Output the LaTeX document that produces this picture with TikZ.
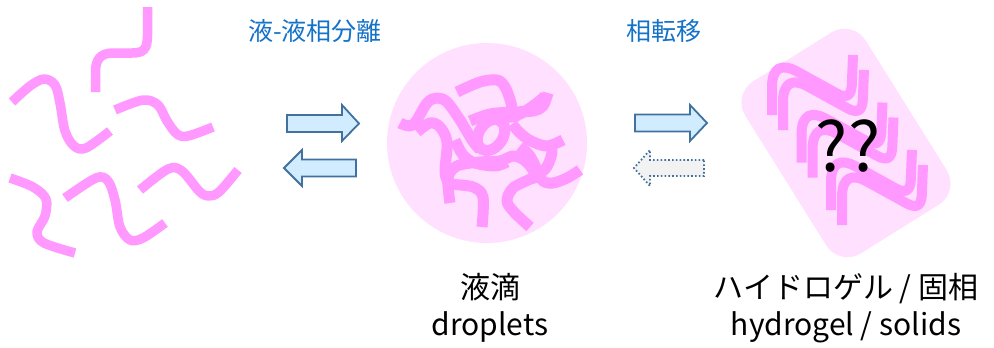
\documentclass[tikz,border=0pt]{standalone}
\usepackage{fontspec}
\setmainfont{Noto Sans CJK JP}
\definecolor{strandpink}{RGB}{255,153,255}
\definecolor{blobpink}{RGB}{255,224,255}
\definecolor{arrowfill}{RGB}{209,236,255}
\definecolor{arrowline}{RGB}{65,113,156}
\definecolor{ghostfill}{RGB}{242,242,242}
\definecolor{labelblue}{RGB}{20,115,200}
\begin{document}
\begin{tikzpicture}[x=1pt,y=-1pt,
  strand/.style={draw=strandpink, line width=9.5pt, line join=round},
  thickstrand/.style={strand, line width=11pt},
  blockarrow/.style={draw=arrowline, fill=arrowfill, line width=1.8pt, line join=miter},
  ghostarrow/.style={draw=arrowline, fill=ghostfill, line width=1.8pt, dash pattern=on 1.6pt off 2.2pt},
  steplabel/.style={text=labelblue, font=\fontsize{25}{30}\selectfont, inner sep=0pt},
  caption/.style={text=black, font=\fontsize{30}{37}\selectfont, align=center, inner sep=0pt},
  smoothpath/.style={smooth, tension=0.55}
]
\useasboundingbox (0,0) rectangle (994,348);

% free chains in solution
\draw[strand] (147.5,7) -- (147.5,35) .. controls (147.5,50) and (143,53) .. (132,53)
  -- (113,53) .. controls (100,53) and (95.5,60) .. (95.5,72) -- (95.5,92);
\draw[strand] plot[smoothpath] coordinates {(12,102) (30,86) (44,79) (55,85) (60,103) (65,131) (74,146) (86,148) (110,131)};
\draw[strand] plot[smoothpath] coordinates {(115,110) (143,100) (158,105) (167,121) (177,134) (188,136) (213,127)};
\draw[strand] plot[smoothpath] coordinates {(140,190) (168,169) (182,171) (199,191) (208,196) (219,192) (238,170)};
\draw[strand] plot[smoothpath] coordinates {(10,178) (33,187) (46,199) (45,216) (37,232) (44,243) (75,253)};
\draw[strand] plot[smoothpath] coordinates {(65,198) (96,178) (108,181) (115,200) (120,227) (130,240) (143,238) (165,223)};

% first pair of arrows (liquid-liquid phase separation)
\draw[blockarrow] (287,115) -- (342,115) -- (342,105) -- (359,123.5) -- (342,141) -- (342,132) -- (287,132) -- cycle;
\draw[blockarrow] (356,159.5) -- (302,159.5) -- (302,150) -- (284,168) -- (302,186) -- (302,176.5) -- (356,176.5) -- cycle;
\node[steplabel] (llps) at (315,31) {液-液相分離};

% droplet with a tangled mass of chains
\node[circle, fill=blobpink, minimum size=200pt, inner sep=0pt] (drop) at (487,143) {};
\draw[thickstrand] plot[smoothpath] coordinates {(457,92) (480,82) (497,80) (505,87) (511,103) (514,122)};
\draw[thickstrand] plot[smoothpath] coordinates {(548,93) (543,106) (533,111) (513,112) (490,114) (470,121)};
\draw[thickstrand] plot[smoothpath] coordinates {(400,123) (413,125) (427,103) (437,98) (447,102) (460,120) (472,140) (480,150)};
\draw[thickstrand] plot[smoothpath] coordinates {(417,132) (430,123) (440,127) (447,142) (445,170) (447,180) (452,184) (473,187) (483,197) (482,227)};
\draw[thickstrand, shift={(491,135)}, rotate=56] (0,0) ellipse [x radius=17, y radius=12];
\draw[thickstrand] plot[smoothpath] coordinates {(450,203) (448,178) (457,166) (480,162) (500,161) (513,156) (524,160) (533,170) (537,183)};
\draw[thickstrand] plot[smoothpath] coordinates {(563,140) (547,146) (531,141) (520,133) (512,124)};
\draw[thickstrand] plot[smoothpath] coordinates {(580,170) (567,178) (553,183) (543,181) (537,170) (530,156) (520,146)};
\draw[thickstrand] plot[smoothpath] coordinates {(530,227) (514,212) (507,201) (513,188) (532,178) (546,168) (552,152) (549,142)};
\draw[thickstrand] plot[smoothpath] coordinates {(455,140) (463,155) (475,163) (495,166) (507,162)};
\draw[thickstrand] plot[smoothpath] coordinates {(503,118) (520,114) (537,103) (545,96)};
\node[caption] (dropcap) at (490,308) {液滴\\droplets};

% second pair of arrows (phase transition)
\draw[blockarrow] (635,114.5) -- (690,114.5) -- (690,105) -- (707,123) -- (690,141) -- (690,131.5) -- (635,131.5) -- cycle;
\draw[ghostarrow] (704,160) -- (650,160) -- (650,150) -- (634,168) -- (650,186) -- (650,176) -- (704,176) -- cycle;
\node[steplabel] (trans) at (664,31) {相転移};

% gel / solid block with stacked chains
\node[fill=blobpink, rounded corners=25pt, minimum width=203pt, minimum height=142pt, rotate=-58, inner sep=0pt] (gel) at (846,143) {};
\foreach \dx/\dy in {0/0, 11/15, 29.5/47.5, 40.5/62.5, 59/95, 70/110}
  \draw[strand, line width=10pt, shift={(\dx,\dy)}] (772,115) -- (772,87) .. controls (772,66) and (783,64) .. (796,71)
    -- (836,93) .. controls (850,101) and (852,92) .. (852,80) -- (853,55);
\node[font=\fontsize{68}{68}\selectfont, inner sep=0pt] (qq) at (848,146) {??};
\node[caption] (gelcap) at (846,308) {ハイドロゲル / 固相\\hydrogel / solids};
\end{tikzpicture}
\end{document}
